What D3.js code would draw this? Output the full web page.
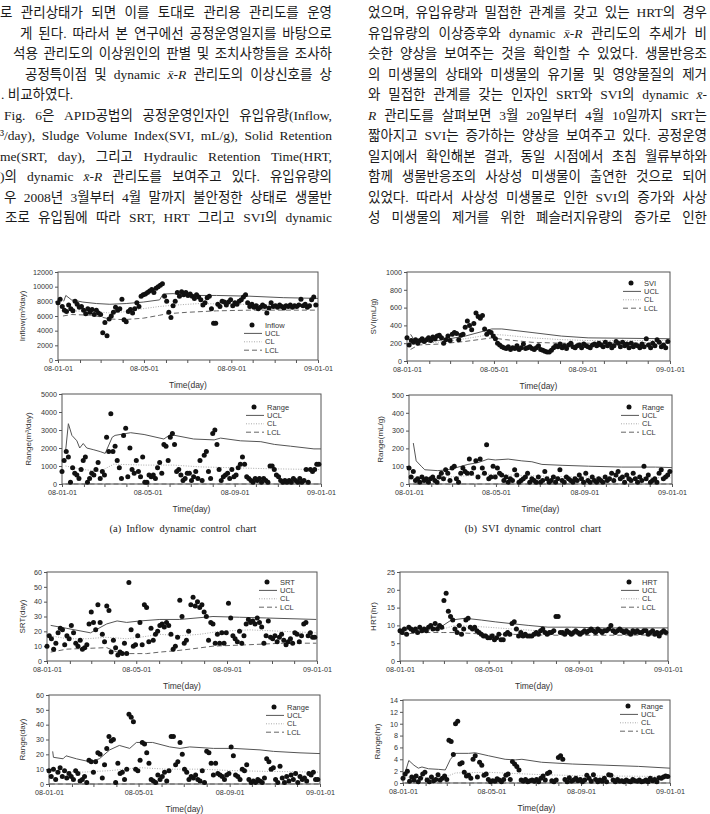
<!DOCTYPE html>
<html lang="ko">
<head>
<meta charset="UTF-8">
<title>Fig. 6 dynamic x-R control charts</title>
<script src="https://d3js.org/d3.v7.min.js"></script>
<style>
  html, body { margin: 0; padding: 0; background: #fff; }
  svg { display: block; }
  .body-text { font-family: "Liberation Serif", "Noto Sans CJK KR", serif; font-size: 13.5px; fill: #1a1a1a; }
  .tick text { font-family: "Liberation Sans", Arial, sans-serif; font-size: 7.2px; fill: #333; }
  .tick line { stroke: #555; }
  .lab { font-family: "Liberation Sans", Arial, sans-serif; fill: #333; }
  .cap { font-family: "Liberation Serif", serif; font-size: 10.5px; fill: #222; word-spacing: 2.5px; }
</style>
</head>
<body>
<svg id="page" width="710" height="814"></svg>
<script>
// text of the page (two justified columns); *...* is italic
const leftLines = [
  [0,  "로 관리상태가 되면 이를 토대로 관리용 관리도를 운영"],
  [20, "게 된다. 따라서 본 연구에선 공정운영일지를 바탕으로"],
  [13, "석용 관리도의 이상원인의 판별 및 조치사항들을 조사하"],
  [25, "공정특이점 및 dynamic *x̄-R* 관리도의 이상신호를 상"],
  [1,  ". 비교하였다."],
  [4,  "Fig. 6은 APID공법의 공정운영인자인 유입유량(Inflow,"],
  [0,  "³/day), Sludge Volume Index(SVI, mL/g), Solid Retention"],
  [0,  "me(SRT, day), 그리고 Hydraulic Retention Time(HRT,"],
  [0,  ")의 dynamic *x̄-R* 관리도를 보여주고 있다. 유입유량의"],
  [4,  "우 2008년 3월부터 4월 말까지 불안정한 상태로 생물반"],
  [5,  "조로 유입됨에 따라 SRT, HRT 그리고 SVI의 dynamic"]
];
const rightLines = [
  "었으며, 유입유량과 밀접한 관계를 갖고 있는 HRT의 경우",
  "유입유량의 이상증후와 dynamic *x̄-R* 관리도의 추세가 비",
  "슷한 양상을 보여주는 것을 확인할 수 있었다. 생물반응조",
  "의 미생물의 상태와 미생물의 유기물 및 영양물질의 제거",
  "와 밀접한 관계를 갖는 인자인 SRT와 SVI의 dynamic *x̄-*",
  "*R* 관리도를 살펴보면 3월 20일부터 4월 10일까지 SRT는",
  "짧아지고 SVI는 증가하는 양상을 보여주고 있다. 공정운영",
  "일지에서 확인해본 결과, 동일 시점에서 초침 월류부하와",
  "함께 생물반응조의 사상성 미생물이 출연한 것으로 되어",
  "있었다. 따라서 사상성 미생물로 인한 SVI의 증가와 사상",
  "성 미생물의 제거를 위한 폐슬러지유량의 증가로 인한"
];
const captions = ["(a)  Inflow  dynamic  control  chart", "(b)  SVI  dynamic  control  chart"];

// observations: one value every 3 days from 2008-01-01
const dayStep = 3;
const inflowVals = [
  7800, 8300, 7300, 6800, 6600, 7500, 7000, 6700, 8000, 7600,
  7200, 7300, 6800, 6300, 7000, 6500, 6900, 6200, 6800, 6400,
  6200, 3700, 5100, 3300, 5600, 6000, 6500, 7200, 6800, 7000,
  8300, 5500, 5200, 6600, 6900, 6400, 7000, 7800, 7300, 8700,
  8900, 9000, 9200, 9400, 9600, 9200, 9800, 10000, 10200, 10400,
  8700, 8000, 6500, 5800, 7400, 8000, 9200, 8700, 9300, 8900,
  9200, 8800, 9000, 8700, 8400, 8900, 8600, 8200, 7500, 7800,
  8500, 8700, 7000, 5000, 5000, 7600, 7300, 8000, 7900, 7500,
  7900, 8200, 7400, 7800, 7600, 8000, 8200, 8600, 8900, 7800,
  7300, 7600, 7200, 7400, 7000, 7200, 7500, 7300, 6400, 7100,
  7800, 7300, 7400, 7200, 7500, 7300, 7100, 7400, 7300, 7500,
  7200, 7400, 7300, 7500, 8300, 7400, 7600, 7200, 7400, 8200,
  8600, 7500
];
const inflowRange = [
  700, 1300, 1800, 1500, 100, 900, 600, 500, 300, 800,
  1300, 1500, 100, 300, 600, 500, 800, 1200, 300, 700,
  500, 2600, 1800, 3900, 1800, 2100, 1300, 900, 300, 2700,
  3100, 400, 2000, 800, 600, 1300, 700, 400, 1500, 100,
  100, 500, 400, 500, 300, 900, 1200, 600, 2200, 2100,
  1300, 2600, 2800, 2200, 700, 800, 500, 200, 300, 600,
  600, 200, 400, 700, 300, 1300, 200, 1600, 1800, 700,
  300, 2800, 3000, 2200, 800, 200, 400, 500, 600, 300,
  800, 400, 500, 900, 1100, 1500, 1100, 400, 300, 200,
  100, 300, 200, 300, 100, 300, 200, 100, 1000, 1000,
  800, 500, 400, 200, 100, 200, 100, 200, 100, 300,
  200, 100, 300, 100, 200, 800, 100, 800, 700, 800,
  1100, 1100
];
const sviVals = [
  260, 180, 230, 210, 240, 200, 230, 250, 220, 240,
  260, 230, 270, 250, 280, 290, 260, 200, 240, 280,
  230, 300, 320, 310, 240, 290, 300, 380, 450, 400,
  350, 420, 540, 500, 480, 510, 360, 300, 330, 320,
  280, 250, 200, 180, 160, 150, 140, 160, 130, 150,
  140, 170, 130, 150, 190, 140, 150, 160, 140, 130,
  150, 170, 130, 120, 110, 100, 100, 120, 150, 170,
  160, 190, 150, 170, 140, 180, 200, 160, 150, 170,
  180, 150, 190, 170, 160, 150, 180, 190, 170, 200,
  180, 160, 210, 170, 190, 150, 170, 220, 200, 160,
  210, 170, 190, 150, 200, 160, 180, 170, 150, 190,
  160, 250, 180, 150, 200, 170, 240, 210, 160, 180,
  150, 220
];
const sviRange = [
  90, 40, 70, 20, 30, 10, 40, 20, 30, 10,
  30, 40, 20, 10, 40, 60, 30, 80, 60, 20,
  90, 100, 30, 10, 60, 90, 70, 60, 140, 60,
  90, 130, 40, 140, 90, 60, 220, 30, 40, 100,
  40, 90, 60, 50, 20, 40, 10, 30, 20, 80,
  50, 10, 20, 30, 40, 60, 10, 30, 20, 10,
  40, 10, 20, 70, 30, 10, 20, 40, 10, 30,
  80, 20, 10, 40, 30, 20, 10, 30, 20, 50,
  30, 10, 60, 20, 10, 40, 20, 10, 30, 20,
  10, 40, 20, 30, 60, 20, 50, 70, 30, 40,
  10, 50, 30, 20, 60, 30, 10, 40, 20, 100,
  30, 50, 10, 20, 30, 10, 60, 80, 30, 40,
  50, 70
];
const srtVals = [
  10, 17, 15, 8, 12, 19, 22, 21, 11, 17,
  15, 24, 19, 12, 10, 14, 8, 9, 11, 25,
  33, 26, 21, 38, 26, 18, 13, 37, 34, 6,
  14, 9, 4, 6, 5, 12, 5, 53, 21, 10,
  11, 17, 26, 11, 38, 36, 13, 22, 14, 18,
  20, 24, 25, 23, 26, 24, 18, 8, 10, 16,
  41, 30, 12, 14, 20, 38, 43, 37, 40, 36,
  38, 33, 30, 14, 26, 25, 12, 18, 12, 19,
  12, 19, 39, 29, 17, 15, 13, 20, 12, 17,
  25, 28, 26, 27, 25, 29, 26, 23, 12, 17,
  27, 16, 15, 17, 13, 16, 18, 14, 11, 13,
  15, 12, 19, 18, 13, 17, 25, 26, 17, 19,
  16, 16
];
const srtRange = [
  9, 5, 10, 3, 8, 11, 5, 9, 4, 7,
  5, 3, 9, 7, 2, 3, 5, 1, 16, 15,
  8, 15, 21, 20, 4, 13, 24, 32, 29, 30,
  1, 14, 7, 8, 3, 10, 47, 45, 42, 10,
  9, 16, 28, 27, 21, 14, 3, 2, 1, 6,
  3, 5, 8, 2, 9, 32, 32, 13, 15, 28,
  20, 10, 8, 3, 5, 4, 6, 3, 2, 9,
  1, 22, 21, 14, 6, 14, 7, 6, 5, 3,
  6, 7, 25, 19, 6, 5, 3, 10, 9, 13,
  3, 1, 2, 1, 3, 2, 1, 4, 17, 15,
  10, 11, 3, 1, 12, 4, 1, 5, 2, 6,
  3, 7, 1, 5, 3, 4, 2, 7, 6, 8,
  3, 3
];
const hrtVals = [
  8.5, 8, 9, 7.5, 9.5, 9, 8.5, 9, 8, 9.5,
  8.5, 9, 8.5, 9.5, 10, 9, 10.5, 9, 10, 9.5,
  17, 19, 14, 12.5, 11.5, 9, 8, 10, 7.5, 9,
  11.5, 12, 9.5, 9, 9.5, 8.5, 8, 7.5, 7, 7,
  6.5, 6.5, 7, 6, 6.5, 7.5, 6, 6, 7.5, 8,
  7.5, 10.5, 11, 9, 7, 8, 7, 7.5, 7, 7,
  7, 7.5, 8, 7.5, 8.5, 9, 8, 7.5, 8, 8,
  8.5, 12.5, 12.5, 8, 8, 7.5, 8.5, 8, 7.5, 8,
  8.5, 8, 7.5, 8, 8.5, 8, 8.5, 9, 8.5, 8,
  9, 8.5, 8, 8.5, 8.5, 9, 10, 8.5, 8, 8.5,
  9, 8.5, 8, 8.5, 8, 7.5, 8.5, 8, 8.5, 8,
  8, 8.5, 8.5, 7.5, 8, 8.5, 7.5, 8, 7, 8,
  8.5, 8
];
const hrtRange = [
  0.8, 1.5, 2, 0.3, 1, 0.5, 1.2, 0.2, 0.8, 1.5,
  1.8, 0.5, 0.2, 1, 0.4, 0.6, 1.4, 0.5, 0.8, 1.2,
  0.6, 7.2, 7, 4.8, 10, 10.4, 3.2, 3.4, 1.8, 1.2,
  1.3, 0.8, 4, 4.6, 1, 3.5, 3, 1.3, 1.5, 0.6,
  0.2, 0.4, 0.3, 0.7, 0.5, 0.2, 0.6, 1.3, 1.5, 0.6,
  3.6, 3.2, 2.8, 2.2, 0.5, 0.3, 0.6, 0.2, 0.4, 0.5,
  0.3, 0.6, 0.2, 0.8, 1.2, 0.5, 1.6, 1.8, 0.4, 0.2,
  0.5, 4.3, 4.6, 4, 0.6, 0.2, 0.9, 0.3, 0.5, 0.8,
  0.4, 0.6, 0.2, 0.5, 1.3, 0.8, 0.3, 1.4, 0.6, 0.2,
  0.5, 0.3, 0.8, 0.2, 1.4, 1.3, 0.5, 0.2, 0.6, 0.3,
  0.4, 0.2, 0.5, 0.3, 0.2, 0.6, 0.4, 0.3, 0.5, 0.2,
  0.3, 0.5, 0.2, 0.8, 0.4, 0.6, 0.2, 0.9, 0.8, 1,
  1.2, 1.1
];

// control limits as [day of year, value]
const inflowUCL = [[8,8000],[11,8800],[19,8200],[35,7900],[54,7700],[73,7600],[96,7700],[120,7900],[143,8200],[148,9000],[162,9050],[190,8800],[223,8800],[270,8700],[317,8500],[366,8400]];
const inflowCL  = [[8,6900],[19,6700],[54,6600],[73,6400],[96,6600],[120,7000],[143,7300],[167,7500],[200,7700],[246,7600],[366,7500]];
const inflowLCL = [[7,6000],[19,6200],[49,6100],[73,5600],[92,5500],[120,5700],[143,6100],[153,6300],[181,6500],[223,6700],[270,6800],[366,6800]];
const inflowRUCL = [[5,1800],[9,3350],[14,2700],[21,2400],[25,2000],[30,2250],[35,2000],[45,1900],[54,1800],[61,1700],[71,2600],[75,2700],[97,2850],[116,2750],[144,2500],[153,2750],[186,2500],[215,2450],[224,2550],[252,2400],[281,2350],[300,2200],[323,2100],[356,1950],[366,1950]];
const inflowRCL  = [[5,1000],[31,800],[54,700],[73,1100],[116,1050],[158,1050],[196,950],[243,900],[290,850],[366,800]];
const inflowRLCL = [[5,0],[366,0]];

const sviUCL = [[5,300],[12,210],[44,230],[81,280],[118,360],[132,360],[174,320],[215,280],[252,260],[366,250]];
const sviCL  = [[5,190],[12,200],[44,210],[81,250],[118,300],[137,290],[174,260],[215,240],[252,230],[366,230]];
const sviLCL = [[5,130],[16,180],[44,190],[81,220],[118,260],[137,240],[174,210],[215,200],[252,200],[366,205]];
const sviRUCL = [[6,230],[10,130],[17,100],[22,80],[40,75],[54,80],[64,90],[73,100],[82,110],[96,120],[110,140],[120,135],[138,140],[157,130],[171,125],[185,110],[213,105],[250,100],[296,95],[343,95],[366,92]];
const sviRCL  = [[6,40],[40,35],[78,45],[110,55],[143,50],[180,45],[227,40],[366,35]];
const sviRLCL = [[6,0],[366,0]];

const srtUCL = [[5,24],[27,22],[59,19],[81,25],[95,27],[108,26],[126,27],[153,28],[180,28],[225,30],[261,29.5],[297,29],[365,28]];
const srtCL  = [[5,17],[27,15],[54,15],[81,16],[108,15],[126,16],[153,18],[180,17],[207,18],[234,20],[275,21],[320,20],[365,19]];
const srtLCL = [[5,6],[27,8],[54,8.5],[81,9],[95,6],[108,5],[135,5],[153,6],[176,7],[194,8],[225,10],[275,11],[320,12],[365,12]];
const srtRUCL = [[5,22],[6,18],[19,17],[23,19],[37,17],[55,15],[68,17],[82,23],[95,26],[109,24],[118,28],[140,28],[163,25],[177,24],[190,25],[222,24],[249,24],[285,23],[303,22],[339,21],[366,20.5]];
const srtRCL  = [[1,9],[46,8],[82,9],[123,11],[159,10],[204,10],[249,9],[294,8.5],[366,8]];
const srtRLCL = [[1,0],[366,0]];

const hrtUCL = [[2,9],[30,9],[48,9.5],[59,10],[70,11.5],[89,12],[111,11.5],[130,11],[152,10.5],[175,10],[202,9.5],[234,9.5],[280,9.3],[366,9.3]];
const hrtCL  = [[2,8.5],[30,8.5],[59,9],[75,10],[120,9.5],[152,9],[189,8.5],[234,8.3],[366,8.2]];
const hrtLCL = [[2,7.5],[30,8],[59,8],[75,8],[120,7.5],[152,7.5],[189,7.3],[234,7.2],[366,7.3]];
const hrtRUCL = [[3,1.8],[8,3.8],[15,3],[21,2.5],[26,2.7],[35,2.4],[49,2.3],[58,2.2],[65,4],[72,5],[90,5],[99,5.1],[117,4.6],[140,4],[154,3.9],[163,4],[190,3.5],[218,3.3],[232,3.2],[277,3],[323,2.8],[366,2.5]];
const hrtRCL  = [[3,1],[26,0.9],[58,1],[72,1.7],[117,1.8],[154,1.6],[190,1.4],[254,1.2],[366,1.1]];
const hrtRLCL = [[3,0],[366,0]];

// layout of the eight panels
const charts = [
  { x0: 58,  x1: 318, y0: 272, y1: 360, yMax: 12000, yStep: 2000, ylab: "Inflow(m³/day)", ylx: 22, name: "Inflow", pts: inflowVals,  ucl: inflowUCL,  cl: inflowCL,  lcl: inflowLCL,  legX: 265, legY: 325 },
  { x0: 62,  x1: 321, y0: 394, y1: 484, yMax: 5000,  yStep: 1000, ylab: "Range(m³/day)",  ylx: 28, name: "Range",  pts: inflowRange, ucl: inflowRUCL, cl: inflowRCL, lcl: inflowRLCL, legX: 267, legY: 407 },
  { x0: 407, x1: 670, y0: 272, y1: 361, yMax: 1000,  yStep: 200,  ylab: "SVI(mL/g)",      ylx: 373, name: "SVI",   pts: sviVals,     ucl: sviUCL,     cl: sviCL,     lcl: sviLCL,     legX: 644, legY: 283 },
  { x0: 409, x1: 672, y0: 395, y1: 484, yMax: 500,   yStep: 100,  ylab: "Range(mL/g)",    ylx: 380, name: "Range", pts: sviRange,    ucl: sviRUCL,    cl: sviRCL,    lcl: sviRLCL,    legX: 642, legY: 407 },
  { x0: 47,  x1: 317, y0: 572, y1: 661, yMax: 60,    yStep: 10,   ylab: "SRT(day)",       ylx: 22, name: "SRT",    pts: srtVals,     ucl: srtUCL,     cl: srtCL,     lcl: srtLCL,     legX: 280, legY: 582 },
  { x0: 49,  x1: 320, y0: 695, y1: 784, yMax: 60,    yStep: 10,   ylab: "Range(day)",     ylx: 22, name: "Range",  pts: srtRange,    ucl: srtRUCL,    cl: srtRCL,    lcl: srtRLCL,    legX: 287, legY: 707 },
  { x0: 400, x1: 668, y0: 572, y1: 661, yMax: 25,    yStep: 5,    ylab: "HRT(hr)",        ylx: 373, name: "HRT",   pts: hrtVals,     ucl: hrtUCL,     cl: hrtCL,     lcl: hrtLCL,     legX: 642, legY: 582 },
  { x0: 403, x1: 670, y0: 700, y1: 783, yMax: 14,    yStep: 2,    ylab: "Range(hr)",      ylx: 377, name: "Range", pts: hrtRange,    ucl: hrtRUCL,    cl: hrtRCL,    lcl: hrtRLCL,    legX: 641, legY: 706 }
];

const svg = d3.select("#page");
const t0 = new Date(2008, 0, 1), t1 = new Date(2009, 0, 1);
const months = d3.timeMonth.range(t0, d3.timeDay.offset(t1, 1));
const fmt = d3.timeFormat("%y-%m-%d");
const dayToDate = d => d3.timeDay.offset(t0, d);

// --- body text, justified by widening the word gaps ---
function writeLine(x, y, width, str, justify) {
  const t = svg.append("text").attr("class", "body-text").attr("x", x).attr("y", y);
  str.split("*").forEach((seg, i) => {
    if (!seg) return;
    const ts = t.append("tspan").text(seg);
    if (i % 2) ts.attr("font-style", "italic").attr("font-family", "Liberation Serif");
  });
  if (!justify) return;
  const natural = t.node().getComputedTextLength();
  const gaps = (str.match(/ /g) || []).length;
  if (gaps) t.attr("word-spacing", (width - natural) / gaps);
}
leftLines.forEach(([x, s], i) => writeLine(x, 17 + i * 20.5, 332 - x, s, i !== 4));
rightLines.forEach((s, i) => writeLine(368, 17 + i * 20.5, 707 - 368, s, true));

svg.append("text").attr("class", "cap").attr("x", 183).attr("y", 532).attr("text-anchor", "middle").text(captions[0]);
svg.append("text").attr("class", "cap").attr("x", 533).attr("y", 532).attr("text-anchor", "middle").text(captions[1]);

// --- charts ---
const styles = {
  ucl: { stroke: "#555", dash: null,    width: 1 },
  cl:  { stroke: "#aaa", dash: "1,1.5", width: 1 },
  lcl: { stroke: "#666", dash: "5,3",   width: 1 }
};

function drawChart(c) {
  const x = d3.scaleTime().domain([t0, t1]).range([c.x0, c.x1]);
  const y = d3.scaleLinear().domain([0, c.yMax]).range([c.y1, c.y0]);
  const g = svg.append("g");

  g.append("g").attr("transform", `translate(0,${c.y1})`)
    .call(d3.axisBottom(x).tickValues(months).tickSize(3).tickPadding(3)
      .tickFormat(d => d.getMonth() % 4 === 0 ? fmt(d) : ""))
    .call(a => a.select(".domain").remove());

  g.append("g").attr("transform", `translate(${c.x0},0)`)
    .call(d3.axisLeft(y).tickValues(d3.range(0, c.yMax + c.yStep / 2, c.yStep))
      .tickFormat(d3.format("d")).tickSize(3).tickPadding(2))
    .call(a => a.select(".domain").remove());

  g.append("rect").attr("x", c.x0).attr("y", c.y0)
    .attr("width", c.x1 - c.x0).attr("height", c.y1 - c.y0)
    .attr("fill", "none").attr("stroke", "#555").attr("stroke-width", 1);

  const line = d3.line().x(d => x(dayToDate(d[0]))).y(d => y(d[1]));
  ["ucl", "cl", "lcl"].forEach(k => {
    g.append("path").datum(c[k]).attr("d", line).attr("fill", "none")
      .attr("stroke", styles[k].stroke).attr("stroke-width", styles[k].width)
      .attr("stroke-dasharray", styles[k].dash);
  });

  g.selectAll("circle.pt").data(c.pts).join("circle").attr("class", "pt")
    .attr("cx", (d, i) => x(dayToDate(i * dayStep)))
    .attr("cy", d => y(d))
    .attr("r", 2.5).attr("fill", "#111");

  g.append("text").attr("class", "lab").attr("font-size", 8.5)
    .attr("x", (c.x0 + c.x1) / 2).attr("y", c.y1 + 28).attr("text-anchor", "middle")
    .text("Time(day)");

  g.append("text").attr("class", "lab").attr("font-size", 8)
    .attr("transform", `translate(${c.ylx},${(c.y0 + c.y1) / 2}) rotate(-90)`)
    .attr("text-anchor", "middle").attr("dy", "0.35em")
    .text(c.ylab);

  // legend
  const rows = [c.name, "UCL", "CL", "LCL"];
  rows.forEach((lab, i) => {
    const ly = c.legY + i * 8.4;
    if (i === 0) {
      g.append("circle").attr("cx", c.legX - 13).attr("cy", ly).attr("r", 2.5).attr("fill", "#111");
    } else {
      const s = styles[["ucl", "cl", "lcl"][i - 1]];
      g.append("line").attr("x1", c.legX - 21).attr("x2", c.legX - 3).attr("y1", ly).attr("y2", ly)
        .attr("stroke", s.stroke).attr("stroke-width", s.width).attr("stroke-dasharray", s.dash);
    }
    g.append("text").attr("class", "lab").attr("font-size", 7.5)
      .attr("x", c.legX).attr("y", ly).attr("dy", "0.35em").text(lab);
  });
}

charts.forEach(drawChart);
</script>
</body>
</html>
